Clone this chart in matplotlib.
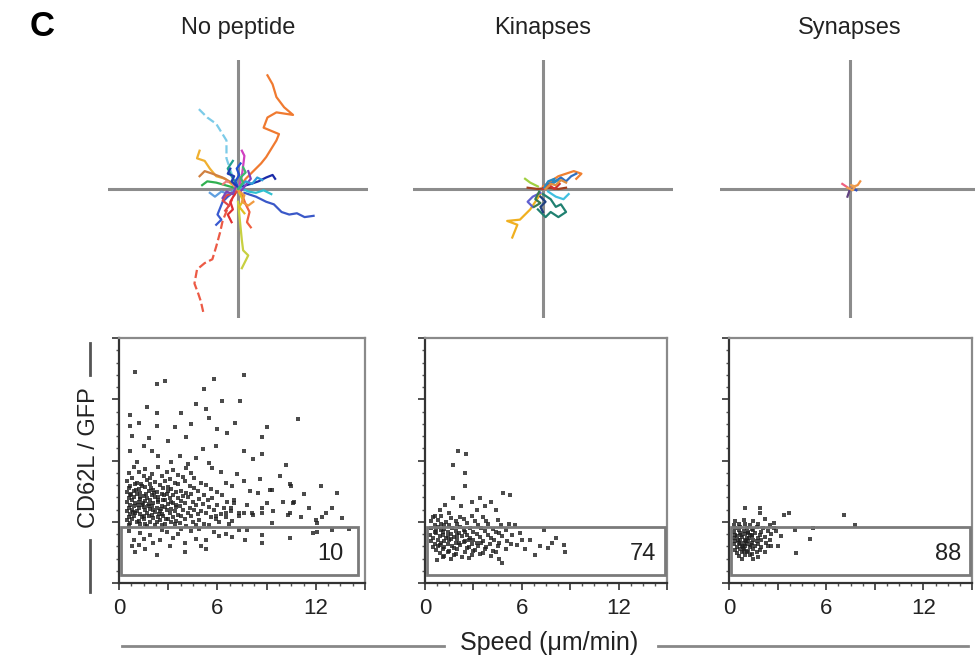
import numpy as np
import matplotlib
matplotlib.use('Agg')
import matplotlib.pyplot as plt
from matplotlib.lines import Line2D
from matplotlib.patches import Rectangle
from matplotlib.ticker import MultipleLocator

plt.rcParams['font.family'] = ['Liberation Sans', 'DejaVu Sans']

W, H = 975, 665

conditions = ['No peptide', 'Kinapses', 'Synapses']
gate_percent = ['10', '74', '88']
speed_ticks = [0, 3, 6, 9, 12, 15]
speed_ticklabels = ['0', '', '6', '', '12', '']
cd62l_ticks = [0, 1, 2, 3, 4]

# migration tracks, (colour, dashed, points) in um from the start point
nopep_tracks = [
    ('#f07a30', False, [(0, 0), (6, 8), (12, 14), (18, 20), (22, 25), (30, 38), (32, 43), (20, 48), (23, 56),
                        (30, 60), (43, 58), (36, 64), (30, 72), (27, 82), (23, 89)]),
    ('#ec5a45', True, [(0, 0), (-3, -5), (-8, -15), (-12, -25), (-14, -34), (-17, -45), (-20, -55), (-26, -58),
                       (-32, -63), (-34, -74), (-31, -82), (-29, -88), (-27, -97)]),
    ('#7ccbe8', True, [(0, 2), (-5, 12), (-9, 24), (-9, 38), (-17, 51), (-24, 56), (-32, 64)]),
    ('#3a58c8', False, [(5, -3), (14, -6), (22, -10), (28, -12), (34, -18), (40, -20), (46, -19), (52, -22),
                        (59, -21)]),
    ('#3a5ad0', False, [(-3, -2), (-8, -6), (-12, -10), (-14, -15), (-16, -20), (-13, -24), (-17, -28)]),
    ('#f0b030', False, [(-4, 3), (-10, 8), (-17, 10), (-22, 16), (-26, 22), (-32, 24), (-30, 30)]),
    ('#d08040', False, [(-5, 5), (-12, 9), (-20, 12), (-26, 14), (-30, 10)]),
    ('#1a2aa8', False, [(3, 2), (10, 4), (16, 6), (22, 9), (27, 11), (29, 8)]),
    ('#c8d040', False, [(0, -10), (1, -20), (2, -30), (3, -40), (4, -48), (8, -52), (5, -58), (3, -62)]),
    ('#d040c0', False, [(1, 2), (3, 10), (4, 18), (5, 26), (3, 30)]),
    ('#30b050', False, [(-3, 1), (-10, 3), (-17, 5), (-24, 6), (-28, 3)]),
    ('#30c0d0', False, [(2, 1), (8, -2), (14, -3), (20, -1), (26, -4)]),
    ('#e03030', False, [(-2, -3), (-6, -10), (-4, -16), (-8, -20), (-5, -26)]),
    ('#f06040', False, [(3, -4), (6, -12), (9, -18), (7, -26), (10, -30)]),
    ('#20a090', False, [(-1, 3), (-5, 10), (-8, 16), (-4, 22)]),
    ('#8040c0', False, [(2, -2), (6, 3), (10, 8), (8, 14)]),
    ('#60a0e0', False, [(-2, 0), (-7, -4), (-13, -2), (-18, -6), (-22, -3)]),
    ('#e0c020', False, [(1, -3), (4, -9), (1, -14), (5, -19)]),
    ('#2050d0', False, [(0, 1), (-2, 6), (1, 11), (-1, 16), (2, 20)]),
    ('#f08080', True, [(-1, -1), (-4, 4), (-9, 6), (-14, 2)]),
    ('#1c3cb0', False, [(-1, 2), (-5, 6), (-3, 10), (-8, 12), (-6, 16)]),
    ('#e04848', False, [(-1, -2), (-9, -5), (-12, -9), (-7, -13), (-10, -17)]),
    ('#2f9fd8', False, [(1, 1), (6, 6), (11, 4), (15, 9), (19, 7)]),
    ('#f09a40', False, [(0, -1), (5, -5), (3, -10), (8, -13), (12, -10)]),
    ('#7a48b8', False, [(-2, 1), (-4, -4), (-9, -2), (-12, -7)]),
    ('#3cb870', False, [(0, 0), (4, 5), (2, 9), (6, 13), (4, 17)]),
]

kinapse_tracks = [
    ('#f0b020', False, [(-2, -4), (-6, -10), (-10, -16), (-18, -24), (-28, -25), (-20, -28), (-22, -33), (-24, -38)]),
    ('#f08030', False, [(0, 2), (6, 6), (12, 10), (18, 12), (24, 14), (30, 12), (26, 8)]),
    ('#3070c0', False, [(2, 3), (8, 5), (14, 9), (18, 6), (22, 10), (26, 12)]),
    ('#208070', False, [(0, -4), (6, -8), (10, -14), (14, -12), (18, -18), (12, -22), (6, -18), (2, -22), (-4, -16)]),
    ('#a0d040', False, [(-4, 2), (-10, 5), (-14, 8)]),
    ('#a04020', False, [(-12, 1), (-4, 0), (4, 1), (12, 0), (18, 1)]),
    ('#6060d0', False, [(-2, -3), (-8, -6), (-12, -10), (-8, -14)]),
    ('#40c0e0', False, [(4, -2), (10, -6), (16, -8), (20, -4)]),
    ('#204080', False, [(-2, -6), (2, -10), (-2, -14), (0, -18)]),
    ('#d03030', False, [(0, 0), (5, 3), (9, 0), (13, 4)]),
    ('#2a8ac0', False, [(1, 1), (4, 6), (9, 8), (7, 4), (12, 7)]),
    ('#3a7a50', False, [(-3, -2), (-6, -8), (-2, -11), (-7, -14)]),
    ('#e09040', False, [(2, 0), (6, 4), (10, 3), (14, 7), (18, 5)]),
]

synapse_tracks = [
    ('#f09040', False, [(0, 0), (3, 2), (6, 3), (8, 6)]),
    ('#f06080', False, [(0, 0), (-3, 2), (-6, 4)]),
    ('#604080', False, [(0, 0), (-1, -3), (-2, -6)]),
    ('#3050c0', False, [(0, 0), (3, 0), (5, -1)]),
    ('#f0a050', False, [(-2, 1), (2, -1), (4, 2), (1, 3)]),
]

# speed (um/min), CD62L/GFP (log units) per cell
nopep_cells = [
    (1.0, 3.45), (2.3, 3.25), (2.8, 3.30), (5.2, 3.16), (5.8, 3.33), (7.6, 3.39), (6.3, 2.97), (7.4, 2.97),
    (4.7, 2.92), (5.3, 2.84), (1.7, 2.88), (3.8, 2.78), (0.7, 2.75), (2.3, 2.78), (5.5, 2.70), (10.9, 2.67),
    (7.1, 2.62), (9.0, 2.54), (3.4, 2.54), (0.7, 2.56), (2.3, 2.56), (6.6, 2.45), (8.7, 2.39), (4.1, 2.39),
    (0.8, 2.40), (1.8, 2.37), (5.9, 2.23), (7.6, 2.15), (8.7, 2.10), (8.2, 2.02), (5.1, 2.18), (0.7, 2.15),
    (1.5, 2.23), (2.4, 2.07), (3.7, 2.07), (4.7, 2.04), (5.5, 1.96), (5.7, 1.88), (10.2, 1.93), (10.4, 1.61),
    (12.3, 1.58), (13.3, 1.47), (9.2, 1.52), (8.5, 1.47), (8.0, 1.50), (6.9, 1.58), (6.5, 1.63), (10.0, 1.33),
    (10.6, 1.31), (11.6, 1.22), (12.6, 1.14), (13.0, 1.22), (10.4, 1.14), (9.4, 1.17), (8.7, 1.14), (8.1, 1.15),
    (7.3, 1.09), (6.5, 1.14), (5.9, 1.09), (12.0, 1.03), (13.6, 1.06), (7.6, 1.66), (8.6, 1.69), (10.5, 1.58),
    (9.3, 1.52), (10.7, 1.33), (12.4, 1.08), (7.6, 1.14), (8.2, 1.11), (8.7, 1.22), (10.3, 1.11), (11.1, 1.07),
    (9.3, 0.98), (12.1, 0.98), (1.2, 2.62), (3.0, 2.32), (4.4, 2.60), (6.0, 2.52), (1.1, 1.98), (2.0, 2.15),
    (3.2, 1.98), (4.2, 1.95), (6.2, 1.82), (7.2, 1.78), (9.8, 1.75), (11.3, 1.45), (7.0, 1.35), (7.8, 1.28),
    (9.0, 1.30), (6.8, 1.22),
    (0.9, 1.90), (1.6, 1.86), (2.4, 1.89), (3.3, 1.84), (4.1, 1.88),
    (0.6, 1.79), (1.2, 1.82), (2.0, 1.78), (2.9, 1.81), (3.6, 1.77), (4.4, 1.80),
    (0.8, 1.72), (1.5, 1.75), (1.9, 1.71), (2.6, 1.74), (3.1, 1.70), (3.9, 1.73), (4.6, 1.71),
    (0.5, 1.67), (1.1, 1.64), (1.7, 1.68), (2.2, 1.65), (2.8, 1.67), (3.4, 1.63), (4.0, 1.66), (5.0, 1.64),
    (0.7, 1.59), (1.0, 1.61), (1.4, 1.58), (1.9, 1.62), (2.5, 1.60), (3.0, 1.57), (3.6, 1.61), (4.3, 1.59),
    (5.3, 1.60),
    (0.6, 1.55), (1.2, 1.53), (1.6, 1.56), (2.1, 1.52), (2.7, 1.55), (3.2, 1.54), (3.8, 1.51), (4.6, 1.55),
    (5.6, 1.53),
    (0.5, 1.48), (0.9, 1.50), (1.3, 1.47), (1.8, 1.51), (2.3, 1.49), (2.6, 1.46), (3.0, 1.50), (3.5, 1.48),
    (4.1, 1.47), (4.8, 1.50), (6.0, 1.48),
    (0.7, 1.43), (1.1, 1.45), (1.5, 1.42), (2.0, 1.44), (2.4, 1.41), (2.9, 1.45), (3.3, 1.43), (3.9, 1.42),
    (4.4, 1.45), (5.2, 1.43), (6.3, 1.44),
    (0.6, 1.38), (0.9, 1.40), (1.3, 1.37), (1.7, 1.39), (2.2, 1.40), (2.7, 1.36), (3.1, 1.39), (3.6, 1.38),
    (4.2, 1.40), (4.9, 1.37), (5.7, 1.39),
    (0.5, 1.33), (0.8, 1.35), (1.2, 1.32), (1.6, 1.34), (1.9, 1.36), (2.4, 1.33), (2.8, 1.35), (3.3, 1.31),
    (3.8, 1.34), (4.5, 1.33), (5.4, 1.35), (6.6, 1.32),
    (0.7, 1.28), (1.0, 1.30), (1.4, 1.27), (1.8, 1.29), (2.1, 1.30), (2.6, 1.26), (3.0, 1.29), (3.5, 1.28),
    (4.0, 1.30), (4.7, 1.27), (5.1, 1.29), (6.0, 1.28), (7.0, 1.30),
    (0.6, 1.23), (0.9, 1.25), (1.2, 1.22), (1.5, 1.24), (2.0, 1.26), (2.3, 1.23), (2.8, 1.24), (3.2, 1.21),
    (3.7, 1.25), (4.3, 1.23), (5.5, 1.24), (6.4, 1.22),
    (0.5, 1.18), (0.8, 1.20), (1.1, 1.17), (1.6, 1.19), (1.9, 1.21), (2.5, 1.18), (2.9, 1.20), (3.4, 1.17),
    (3.9, 1.19), (4.6, 1.20), (5.0, 1.17), (5.8, 1.19), (6.8, 1.18),
    (0.7, 1.13), (1.0, 1.15), (1.3, 1.12), (1.7, 1.14), (2.2, 1.16), (2.6, 1.13), (3.1, 1.14), (3.6, 1.11),
    (4.2, 1.15), (4.8, 1.13), (5.3, 1.14), (6.2, 1.12), (7.3, 1.15),
    (0.6, 1.08), (0.9, 1.10), (1.4, 1.07), (1.8, 1.09), (2.0, 1.11), (2.4, 1.08), (2.7, 1.10), (3.3, 1.07),
    (3.8, 1.09), (4.4, 1.10), (5.6, 1.08), (6.5, 1.07),
    (0.5, 1.03), (0.8, 1.05), (1.2, 1.02), (1.5, 1.04), (2.1, 1.06), (2.5, 1.03), (3.0, 1.04), (3.5, 1.01),
    (4.0, 1.05), (4.9, 1.03), (5.9, 1.04), (6.9, 1.02),
    (0.7, 0.98), (1.1, 1.00), (1.6, 0.97), (1.9, 0.99), (2.3, 1.00), (2.8, 0.97), (3.2, 0.99), (3.7, 0.98),
    (4.5, 1.00), (5.2, 0.97), (6.1, 0.99),
    (0.6, 0.94), (1.3, 0.96), (1.7, 0.93), (2.2, 0.95), (2.6, 0.94), (3.4, 0.96), (4.1, 0.93), (4.7, 0.95),
    (5.5, 0.94), (6.7, 0.96),
    (1.05, 1.52), (1.45, 1.31), (2.15, 1.47), (2.55, 1.21), (1.25, 1.40), (1.75, 1.25), (2.35, 1.36),
    (0.85, 1.16), (1.55, 1.10), (2.75, 1.44), (3.45, 1.24), (1.95, 1.55), (1.15, 1.27), (2.45, 1.12),
    (3.15, 1.33), (0.75, 1.46), (1.35, 1.62), (2.05, 1.19), (2.85, 1.05), (1.65, 1.45),
    (0.6, 0.85), (0.9, 0.70), (1.2, 0.62), (1.3, 0.82), (1.6, 0.55), (1.9, 0.78), (2.1, 0.66), (2.5, 0.70),
    (2.6, 0.86), (2.9, 0.84), (3.1, 0.60), (3.3, 0.74), (3.6, 0.80), (4.0, 0.65), (4.0, 0.50), (4.4, 0.85),
    (4.7, 0.72), (5.0, 0.60), (5.3, 0.55), (5.3, 0.70), (5.8, 0.83), (6.1, 0.76), (6.5, 0.80), (6.9, 0.75),
    (7.3, 0.86), (7.7, 0.70), (7.8, 0.87), (8.7, 0.65), (8.7, 0.79), (10.4, 0.73), (11.8, 0.81), (12.1, 0.84),
    (13.0, 0.87), (14.0, 0.88), (1.0, 0.50), (2.3, 0.45), (0.8, 0.60), (1.5, 0.72), (3.8, 0.88), (4.9, 0.88),
]

kinapse_cells = [
    (2.06, 2.15), (2.57, 2.10), (1.75, 1.93), (2.47, 1.80), (2.47, 1.58), (4.84, 1.47), (5.25, 1.44),
    (3.4, 1.39), (4.1, 1.33), (1.75, 1.39), (1.23, 1.28), (2.26, 1.25), (4.4, 1.20), (3.2, 1.20), (0.93, 1.20),
    (6.5, 0.70), (6.8, 0.46), (7.1, 0.60), (7.6, 0.57), (7.9, 0.65), (8.1, 0.73), (8.6, 0.62), (8.7, 0.51),
    (7.4, 0.87), (5.9, 0.81), (5.7, 0.62), (4.8, 0.32), (0.72, 0.38), (1.13, 0.43), (3.7, 1.25), (2.9, 1.32),
    (1.5, 1.15), (0.6, 1.10), (5.6, 0.95), (6.2, 0.55), (6.0, 0.70),
    (0.5, 1.07), (1.0, 1.09), (1.6, 1.06), (2.2, 1.08), (2.9, 1.10), (3.6, 1.07),
    (0.4, 1.01), (0.8, 1.03), (1.3, 1.00), (1.9, 1.02), (2.4, 1.04), (3.1, 1.01), (3.8, 1.02), (4.5, 1.03),
    (0.6, 0.95), (1.0, 0.97), (1.5, 0.94), (2.0, 0.96), (2.6, 0.98), (3.3, 0.95), (3.9, 0.96), (4.7, 0.94),
    (5.2, 0.97),
    (0.4, 0.89), (0.8, 0.91), (1.2, 0.88), (1.7, 0.90), (2.2, 0.92), (2.8, 0.89), (3.5, 0.90), (4.2, 0.88),
    (0.6, 0.84), (1.0, 0.86), (1.4, 0.83), (1.9, 0.85), (2.4, 0.87), (3.0, 0.84), (3.7, 0.85), (4.4, 0.83),
    (5.0, 0.86),
    (0.3, 0.79), (0.7, 0.81), (1.1, 0.78), (1.6, 0.80), (2.1, 0.82), (2.6, 0.79), (3.2, 0.80), (3.9, 0.78),
    (4.6, 0.81), (5.4, 0.79),
    (0.5, 0.74), (0.9, 0.76), (1.3, 0.73), (1.8, 0.75), (2.3, 0.77), (2.8, 0.74), (3.4, 0.75), (4.1, 0.73),
    (4.8, 0.76),
    (0.4, 0.69), (0.8, 0.71), (1.2, 0.68), (1.5, 0.70), (2.0, 0.72), (2.5, 0.69), (3.0, 0.70), (3.6, 0.68),
    (4.3, 0.71), (5.1, 0.69),
    (0.6, 0.64), (1.0, 0.66), (1.4, 0.63), (1.9, 0.65), (2.4, 0.67), (2.9, 0.64), (3.5, 0.65), (4.0, 0.63),
    (4.6, 0.66), (5.3, 0.64),
    (0.5, 0.59), (0.8, 0.61), (1.2, 0.58), (1.7, 0.60), (2.2, 0.62), (2.7, 0.59), (3.3, 0.60), (3.8, 0.58),
    (4.5, 0.61),
    (0.7, 0.54), (1.1, 0.56), (1.5, 0.53), (2.0, 0.55), (2.6, 0.57), (3.1, 0.54), (3.7, 0.55), (4.2, 0.53),
    (5.0, 0.56),
    (0.9, 0.49), (1.4, 0.51), (1.9, 0.48), (2.5, 0.50), (3.0, 0.52), (3.6, 0.49), (4.4, 0.50),
    (1.2, 0.44), (1.8, 0.46), (2.3, 0.43), (2.9, 0.45), (3.4, 0.47), (4.1, 0.44),
    (1.6, 0.39), (2.7, 0.41), (4.6, 0.40),
    (1.1, 0.83), (1.6, 0.72), (2.1, 0.66), (0.9, 0.62), (1.4, 0.77), (2.5, 0.84), (1.8, 0.57), (1.2, 0.95),
    (2.7, 0.71), (3.2, 0.66), (0.7, 0.88), (2.0, 0.79),
]

synapse_cells = [
    (0.98, 1.22), (1.9, 1.22), (1.9, 1.14), (3.4, 1.11), (3.7, 1.14), (4.05, 0.87), (5.2, 0.90), (4.97, 0.72),
    (4.15, 0.49), (7.1, 1.11), (7.8, 0.95), (2.8, 0.98), (3.2, 0.76), (2.4, 0.60), (2.9, 0.85), (3.0, 0.60),
    (0.4, 1.01), (0.9, 1.03), (1.5, 1.02), (2.2, 1.04),
    (0.3, 0.95), (0.6, 0.97), (1.0, 0.96), (1.3, 0.94), (1.8, 0.97), (2.5, 0.95),
    (0.4, 0.89), (0.7, 0.91), (1.1, 0.90), (1.4, 0.88), (1.7, 0.91), (2.1, 0.89), (2.8, 0.90),
    (0.3, 0.84), (0.6, 0.86), (0.9, 0.85), (1.2, 0.83), (1.5, 0.86), (2.0, 0.84), (2.4, 0.85),
    (0.4, 0.79), (0.7, 0.81), (1.0, 0.80), (1.3, 0.78), (1.6, 0.81), (1.9, 0.79), (2.6, 0.80),
    (0.3, 0.74), (0.5, 0.76), (0.8, 0.75), (1.1, 0.73), (1.4, 0.76), (1.8, 0.74), (2.2, 0.75),
    (0.4, 0.69), (0.7, 0.71), (1.0, 0.70), (1.2, 0.68), (1.5, 0.71), (1.7, 0.69), (2.0, 0.70), (2.5, 0.71),
    (0.3, 0.64), (0.6, 0.66), (0.9, 0.65), (1.1, 0.63), (1.4, 0.66), (1.8, 0.64), (2.3, 0.65),
    (0.5, 0.59), (0.8, 0.61), (1.0, 0.60), (1.3, 0.58), (1.6, 0.61), (2.0, 0.59), (2.6, 0.60),
    (0.4, 0.54), (0.7, 0.56), (0.9, 0.55), (1.2, 0.53), (1.5, 0.56), (1.9, 0.54),
    (0.5, 0.49), (0.8, 0.51), (1.1, 0.50), (1.4, 0.48), (1.7, 0.51), (2.2, 0.50),
    (0.6, 0.44), (1.0, 0.46), (1.3, 0.45), (1.8, 0.43),
    (0.8, 0.39), (1.5, 0.40),
    (0.75, 0.78), (1.05, 0.68), (0.85, 0.58), (1.25, 0.73), (0.65, 0.63), (1.15, 0.82), (0.95, 0.52),
    (1.35, 0.62), (0.55, 0.71), (1.45, 0.79),
]

all_tracks = [nopep_tracks, kinapse_tracks, synapse_tracks]
all_cells = [nopep_cells, kinapse_cells, synapse_cells]


def fig_rect(left, top, width, height):
    return [left / W, 1 - (top + height) / H, width / W, height / H]


fig = plt.figure(figsize=(W / 100, H / 100), dpi=100)

# top row: track plots centred on the crosshair
track_centres = [238, 543, 850]
for cx, tracks in zip(track_centres, all_tracks):
    ax = fig.add_axes(fig_rect(cx - 130, 189 - 129, 260, 258))
    ax.set_xlim(-101.5, 101.5)
    ax.set_ylim(-101, 101)
    ax.axhline(0, color='#8c8c8c', lw=2.2, zorder=1)
    ax.axvline(0, color='#8c8c8c', lw=2.2, zorder=1)
    for colour, dashed, pts in tracks:
        pts = np.array(pts)
        ax.plot(pts[:, 0], pts[:, 1], color=colour, lw=1.6, ls='--' if dashed else '-', zorder=2)
    ax.axis('off')

# bottom row: CD62L vs speed
scatter_lefts = [119, 425, 729]
scatter_widths = [246, 242, 243]
gate_right = [14.55, 14.85, 14.85]
label_right = [13.7, 14.35, 14.35]
for i, cells in enumerate(all_cells):
    ax = fig.add_axes(fig_rect(scatter_lefts[i], 338, scatter_widths[i], 245))
    cells = np.array(cells)
    ax.plot(cells[:, 0], cells[:, 1], 's', ms=2.8, color='#1e1e1e', mew=0, alpha=0.8)
    ax.set_xlim(0, 15)
    ax.set_ylim(0, 4)
    ax.add_patch(Rectangle((0.15, 0.13), gate_right[i] - 0.15, 0.91 - 0.13, fill=False,
                           ec='#7a7a7a', lw=2.0, zorder=3))
    ax.text(label_right[i], 0.47, gate_percent[i], ha='right', va='center', fontsize=17, color='#222222')
    for side in ['left', 'bottom']:
        ax.spines[side].set_color('#333333')
        ax.spines[side].set_linewidth(1.6)
    for side in ['top', 'right']:
        ax.spines[side].set_color('#8a8a8a')
        ax.spines[side].set_linewidth(1.6)
    ax.set_xticks(speed_ticks)
    ax.set_xticklabels(speed_ticklabels)
    ax.xaxis.set_minor_locator(MultipleLocator(0.75))
    ax.set_yticks(cd62l_ticks)
    ax.set_yticklabels([])
    ax.yaxis.set_minor_locator(MultipleLocator(0.2))
    ax.tick_params(which='major', direction='out', length=5, width=1.2, color='#333333',
                   labelsize=16, pad=6, labelcolor='#222222')
    ax.tick_params(which='minor', direction='out', length=2.5, width=1.0, color='#555555')

# titles and panel letter
for cx, name in zip(track_centres, conditions):
    fig.text(cx / W, 1 - 28 / H, name, ha='center', va='center', fontsize=17, color='#222222')
fig.text(42 / W, 1 - 27 / H, 'C', ha='center', va='center', fontsize=25, fontweight='bold')

# shared y label with rules
fig.text(89 / W, 1 - 458 / H, 'CD62L / GFP', rotation=90, ha='center', va='center', fontsize=17,
         color='#222222')
fig.add_artist(Line2D([90 / W, 90 / W], [1 - 343 / H, 1 - 375 / H], color='#555555', lw=2))
fig.add_artist(Line2D([90 / W, 90 / W], [1 - 540 / H, 1 - 592 / H], color='#555555', lw=2))

# shared x label with rules
fig.text(549 / W, 1 - 643 / H, 'Speed (\u03bcm/min)', ha='center', va='center', fontsize=18, color='#222222')
fig.add_artist(Line2D([122 / W, 444 / W], [1 - 646 / H, 1 - 646 / H], color='#888888', lw=2))
fig.add_artist(Line2D([658 / W, 968 / W], [1 - 646 / H, 1 - 646 / H], color='#888888', lw=2))

fig.savefig('out.png', dpi=100)
